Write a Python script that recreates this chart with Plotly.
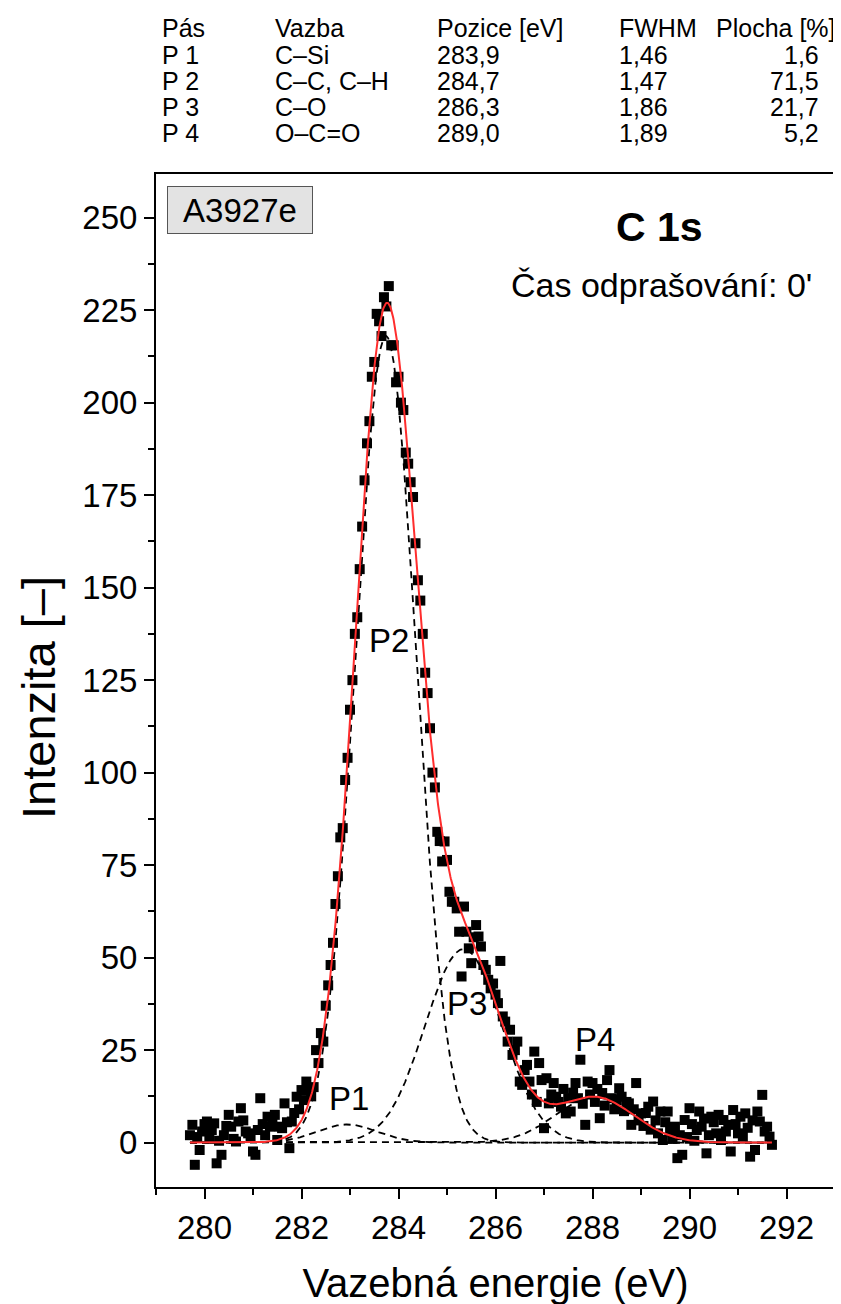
import numpy as np
import plotly.graph_objects as go

# ---------------- data ----------------
table_header = ["Pás", "Vazba", "Pozice [eV]", "FWHM", "Plocha [%]"]
band_names = ["P 1", "P 2", "P 3", "P 4"]
bond_types = ["C–Si", "C–C, C–H", "C–O", "O–C=O"]
table_positions = ["283,9", "284,7", "286,3", "289,0"]
table_fwhm = ["1,46", "1,47", "1,86", "1,89"]
table_area = ["1,6", "71,5", "21,7", "5,2"]

# fitted components, on the plotted (charge-shifted) energy scale
peak_labels = ["P1", "P2", "P3", "P4"]
peak_centers = [282.94, 283.74, 285.34, 288.04]
peak_fwhm = [1.46, 1.47, 1.86, 1.89]
peak_heights = [4.9, 218.0, 52.3, 12.3]

# measured spectrum: regular energy grid
energy_start = 279.70
energy_step = 0.05
intensity = [
    2.0, 4.8, -6.0, 1.5, -2.0, 3.0, 5.0, 5.7, 1.0, 3.4,
    5.2, -5.6, 0.5, -3.3, 2.0, 4.5, 7.5, 4.3, 1.0, 0.3,
    5.7, 9.3, 6.0, 3.0, 2.5, 1.6, -2.4, -3.3, 3.4, 12.0,
    5.0, 2.0, 7.0, 4.3, 6.0, 7.5, 0.7, 4.3, 3.9, 10.6,
    5.5, -1.5, 5.7, 8.0, 12.4, 9.0, 14.2, 11.5, 16.5, 14.2,
    12.5, 15.0, 25.0, 21.5, 29.6, 27.3,
    37.0, 42.5, 48.0, 54.0, 64.5, 72.0, 82.5, 85.0, 98.0, 104.0,
    117.0, 125.0, 137.5, 142.0, 155.0, 166.5, 179.0, 189.0, 195.0, 207.0,
    211.0, 224.0, 222.0, 218.0, 228.5, 226.0, 231.5, 215.5, 215.5, 205.5,
    207.0, 200.0, 198.0, 186.5, 183.5, 178.5, 174.5, 162.0, 152.0, 146.5,
    137.5, 127.0, 121.5, 112.0, 100.0, 96.0, 84.0, 81.5, 76.0, 81.4,
    76.4, 67.8, 65.1, 65.1, 63.3, 57.0, 44.9, 63.8, 57.0, 52.5,
    48.5, 55.5, 58.8, 55.7, 53.0, 48.0, 46.7, 44.0, 41.7, 43.0,
    40.0, 37.7, 49.1, 34.1, 32.7, 27.3, 30.5, 23.7, 25.0, 27.3,
    16.5, 15.6, 19.6, 21.0, 16.5, 13.0, 24.6, 11.0, 21.5, 16.9,
    3.9, 17.4, 10.6, 13.0, 16.1, 12.4, 11.0, 9.7, 14.5, 7.9,
    12.0, 8.4, 13.5, 16.1, 12.0, 22.4, 10.5, 4.8, 16.5, 13.0,
    16.1, 11.0, 14.5, 6.6, 13.4, 10.0, 16.9, 19.6, 12.0, 9.0,
    11.5, 14.7, 12.4, 8.5, 11.0, 10.6, 4.8, 9.0, 16.1, 6.0,
    7.9, 4.5, 8.0, 9.7, 3.5, 11.1, 6.0, 2.5, 8.4, 0.7,
    5.5, 8.4, 3.0, 1.0, 4.3, -4.2, 2.0, -3.3, 6.1, 1.5,
    9.3, 5.0, 0.5, 3.4, 8.4, 4.3, 6.5, -2.9, 2.0, 7.0,
    5.5, 2.5, 7.5, 0.7, 6.1, 3.0, 4.8, -2.4, 8.8, 5.0,
    2.5, 7.0, 1.6, 7.9, 4.0, -3.8, 6.0, -2.0, 8.4, 5.7,
    12.9, 3.0, 4.3, 1.6, -0.6,
]

x_ticks = [280, 282, 284, 286, 288, 290, 292]
y_ticks = [0, 25, 50, 75, 100, 125, 150, 175, 200, 225, 250]

# ---------------- derived ----------------
energy = [round(energy_start + energy_step * i, 2) for i in range(len(intensity))]
xf = np.linspace(energy[0], energy[-1], 1201)
components = [h * np.exp(-4 * np.log(2) * (xf - c) ** 2 / w ** 2)
              for c, w, h in zip(peak_centers, peak_fwhm, peak_heights)]
envelope = np.sum(components, axis=0)

# the page body adds an 8px offset, so the figure is laid out 8px up/left
W, H = 841, 1304
OFF = 8
PLOT_L, PLOT_T, PLOT_W, PLOT_H = 156, 174, 679, 1013   # target page pixels
ML = PLOT_L - OFF
MT = PLOT_T - OFF
MR = W - ML - PLOT_W
MB = H - MT - PLOT_H
FONT = "Liberation Sans, Arial, Helvetica, sans-serif"


def px(xp):
    return (xp - PLOT_L) / PLOT_W


def py(yp):
    return (PLOT_T + PLOT_H - yp) / PLOT_H


fig = go.Figure()

fig.add_trace(go.Scatter(
    x=energy, y=intensity, mode="markers",
    marker=dict(symbol="square", size=10, color="black", line=dict(width=0)),
    showlegend=False, hoverinfo="x+y"))

for comp in components:
    fig.add_trace(go.Scatter(
        x=xf, y=comp, mode="lines",
        line=dict(color="black", width=1.8, dash="7px,5px"),
        showlegend=False, hoverinfo="skip"))

fig.add_trace(go.Scatter(
    x=xf, y=envelope, mode="lines",
    line=dict(color="#ff2d2d", width=2),
    showlegend=False, hoverinfo="skip"))

ann = []
# table
col_x = [160, 273, 435, 617]
row_y = [28, 55, 81, 107, 133]
TF = 25
for j, h in enumerate(table_header[:4]):
    ann.append(dict(x=px(col_x[j]), y=py(row_y[0]), text=h, xanchor="left"))
ann.append(dict(x=px(838), y=py(row_y[0]), text=table_header[4], xanchor="right"))
for i in range(4):
    cols = [band_names[i], bond_types[i], table_positions[i], table_fwhm[i]]
    for j, t in enumerate(cols):
        ann.append(dict(x=px(col_x[j]), y=py(row_y[i + 1]), text=t, xanchor="left"))
    ann.append(dict(x=px(821), y=py(row_y[i + 1]), text=table_area[i], xanchor="right"))
for a in ann:
    a.update(xref="paper", yref="paper", yanchor="middle", showarrow=False,
             font=dict(family=FONT, size=TF, color="black"))

# sample box
ann.append(dict(x=px(240), y=py(210), xref="paper", yref="paper", text="A3927e",
                xanchor="center", yanchor="middle",
                showarrow=False, font=dict(family=FONT, size=33, color="black"),
                bgcolor="#e3e3e3", bordercolor="#555555", borderwidth=1,
                width=142, height=44, borderpad=1))
ann.append(dict(x=px(659), y=py(227), xref="paper", yref="paper", text="<b>C 1s</b>",
                xanchor="center", yanchor="middle",
                showarrow=False, font=dict(family=FONT, size=41, color="black")))
ann.append(dict(x=px(661), y=py(285), xref="paper", yref="paper", text="Čas odprašování: 0'",
                xanchor="center", yanchor="middle",
                showarrow=False, font=dict(family=FONT, size=34, color="black")))

# y axis title (placed slightly below the plot centre, as in the original)
ann.append(dict(x=px(38), y=py(698), xref="paper", yref="paper", text="Intenzita [–]",
                textangle=-90, xanchor="center", yanchor="middle", showarrow=False,
                font=dict(family=FONT, size=47, color="black")))

# peak labels
label_pos = [(282.97, 11.8), (283.81, 135.8), (285.42, 37.5), (288.06, 28.0)]
for lab, (lx, ly) in zip(peak_labels, label_pos):
    ann.append(dict(x=lx, y=ly, xref="x", yref="y", text=lab, showarrow=False,
                    xanchor="center", yanchor="middle",
                    font=dict(family=FONT, size=33, color="black")))

axis_common = dict(
    showline=True, linecolor="black", linewidth=2, mirror=True,
    ticks="outside", ticklen=10, tickwidth=2, tickcolor="black",
    showgrid=False, zeroline=False,
    tickfont=dict(family=FONT, size=33, color="black"),
)

fig.update_layout(
    width=W, height=H,
    margin=dict(l=ML, r=MR, t=MT, b=MB),
    paper_bgcolor="white", plot_bgcolor="white",
    showlegend=False,
    annotations=ann,
    xaxis=dict(range=[279, 293], tickvals=x_ticks,
               minor=dict(dtick=1, tick0=279, ticks="outside", ticklen=6,
                          tickwidth=2, tickcolor="black"),
               title=dict(text="Vazebná energie (eV)",
                          font=dict(family=FONT, size=40, color="black"), standoff=24),
               **axis_common),
    yaxis=dict(range=[-12, 261.8], tickvals=y_ticks,
               minor=dict(dtick=12.5, tick0=0, ticks="outside", ticklen=6,
                          tickwidth=2, tickcolor="black"),
               **axis_common),
)

fig.write_html("out.html")
